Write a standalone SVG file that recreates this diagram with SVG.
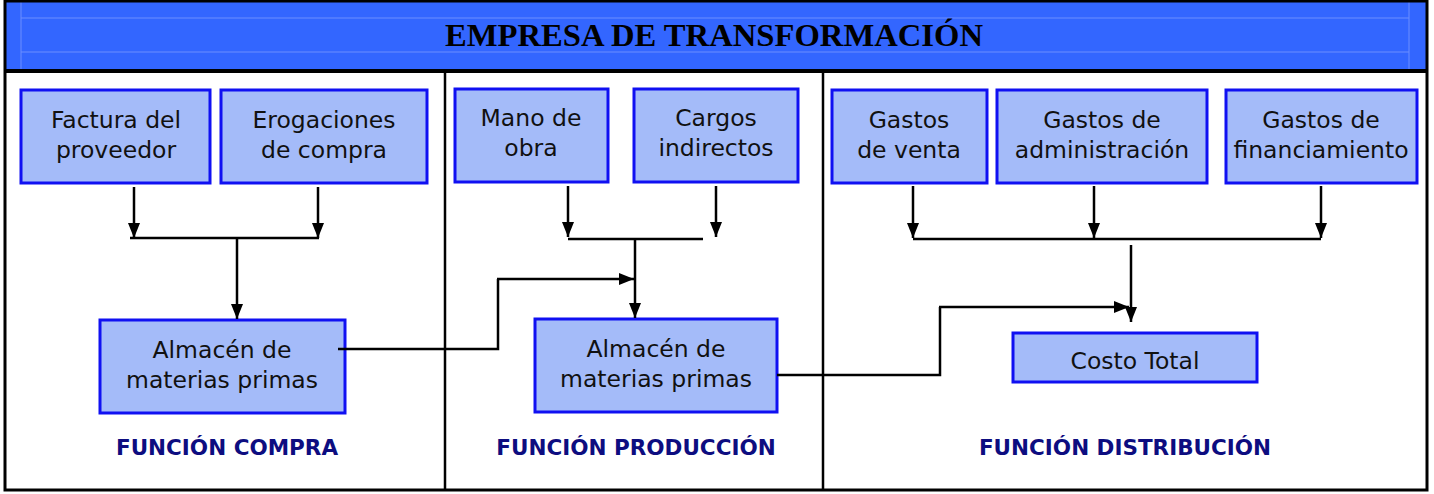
<svg xmlns="http://www.w3.org/2000/svg" width="1434" height="494" viewBox="0 0 1434 494">
<defs>
<marker id="arr" markerUnits="userSpaceOnUse" markerWidth="15" markerHeight="12" refX="15" refY="6" orient="auto">
<path d="M0,0 L15,6 L0,12 Z" fill="#000"/>
</marker>
<style>
.box{fill:#a4bbf9;stroke:#1010f2;stroke-width:3}
.t{font-family:"DejaVu Sans",Verdana,sans-serif;font-size:23.5px;fill:#111;text-anchor:middle}
.lbl{font-family:"DejaVu Sans",Verdana,sans-serif;font-size:21.5px;font-weight:bold;fill:#0d0d80;text-anchor:middle}
.c{fill:none;stroke:#000;stroke-width:2.5}
.ca{fill:none;stroke:#000;stroke-width:2.5;marker-end:url(#arr)}
.hl{stroke:#6d8eff;stroke-width:1;fill:none}
</style>
</defs>
<rect x="0" y="0" width="1434" height="494" fill="#fff"/>
<g id="header">
<rect x="5" y="1" width="1422" height="70" fill="#3366ff"/>
<path class="hl" d="M21,18 H1409 M21,52 H1409 M21,2 V70 M1409,2 V70"/>
<text x="714" y="46" font-family="'Liberation Serif','Times New Roman',serif" font-size="32" font-weight="bold" text-anchor="middle" fill="#000" textLength="538" lengthAdjust="spacingAndGlyphs">EMPRESA DE TRANSFORMACIÓN</text>
</g>
<g id="frame" fill="none" stroke="#000">
<rect x="5" y="1" width="1422" height="489" stroke-width="3"/>
<path d="M5,71 H1427" stroke-width="4"/>
<path d="M445,71 V490 M823,71 V490" stroke-width="2.5"/>
</g>
<g id="factura"><rect class="box" x="21" y="90" width="189" height="93"/><text class="t" x="116" y="128">Factura del</text><text class="t" x="116" y="158">proveedor</text></g>
<g id="erogaciones"><rect class="box" x="221" y="90" width="206" height="93"/><text class="t" x="324" y="128">Erogaciones</text><text class="t" x="324" y="158">de compra</text></g>
<g id="almacen1"><rect class="box" x="100" y="320" width="245" height="93"/><text class="t" x="222" y="358">Almacén de</text><text class="t" x="222" y="388">materias primas</text></g>
<g id="mano"><rect class="box" x="455" y="89" width="153" height="93"/><text class="t" x="531" y="126">Mano de</text><text class="t" x="531" y="156">obra</text></g>
<g id="cargos"><rect class="box" x="634" y="89" width="164" height="93"/><text class="t" x="716" y="126">Cargos</text><text class="t" x="716" y="156">indirectos</text></g>
<g id="almacen2"><rect class="box" x="535" y="319" width="242" height="93"/><text class="t" x="656" y="357">Almacén de</text><text class="t" x="656" y="387">materias primas</text></g>
<g id="venta"><rect class="box" x="832" y="90" width="155" height="93"/><text class="t" x="909" y="128">Gastos</text><text class="t" x="909" y="158">de venta</text></g>
<g id="administracion"><rect class="box" x="997" y="90" width="210" height="93"/><text class="t" x="1102" y="128">Gastos de</text><text class="t" x="1102" y="158">administración</text></g>
<g id="financiamiento"><rect class="box" x="1226" y="90" width="191" height="93"/><text class="t" x="1321" y="128">Gastos de</text><text class="t" x="1321" y="158">financiamiento</text></g>
<g id="costo"><rect class="box" x="1013" y="333" width="244" height="49"/><text class="t" x="1135" y="369">Costo Total</text></g>
<g id="labels">
<text class="lbl" x="227" y="455">FUNCIÓN COMPRA</text>
<text class="lbl" x="636" y="455">FUNCIÓN PRODUCCIÓN</text>
<text class="lbl" x="1125" y="455">FUNCIÓN DISTRIBUCIÓN</text>
</g>
<g id="connectors">
<path class="ca" d="M134,187 V238"/>
<path class="ca" d="M318,187 V238"/>
<path class="c" d="M130,238 H319"/>
<path class="ca" d="M237,238 V319"/>
<path class="c" d="M338,349 H498 V279"/>
<path class="ca" d="M497,279 H634"/>
<path class="ca" d="M568,186 V237"/>
<path class="ca" d="M716,186 V237"/>
<path class="c" d="M568,239 H703"/>
<path class="ca" d="M635,239 V318"/>
<path class="c" d="M777,375 H940 V307"/>
<path class="ca" d="M939,307 H1129"/>
<path class="ca" d="M913,186 V238"/>
<path class="ca" d="M1094,186 V238"/>
<path class="ca" d="M1321,186 V238"/>
<path class="c" d="M913,239 H1321"/>
<path class="ca" d="M1131,245 V322"/>
</g>
</svg>
